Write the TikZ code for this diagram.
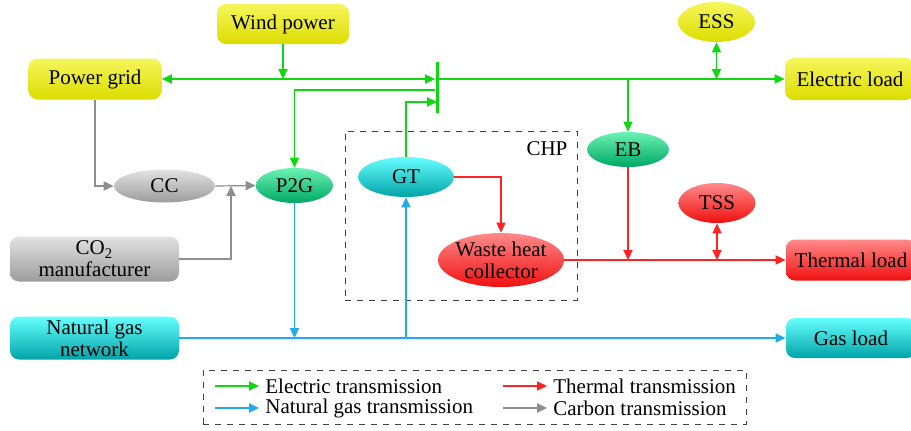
\documentclass[tikz,border=0pt]{standalone}
\usepackage{fontspec}
\setmainfont{LiberationSerif}[Extension=.ttf,UprightFont=*-Regular,BoldFont=*-Bold,ItalicFont=*-Italic]
\usetikzlibrary{arrows.meta,positioning,calc,shapes.geometric}
\usepackage{xcolor}
\definecolor{elec}{HTML}{10D810}
\definecolor{gas}{HTML}{22AAEE}
\definecolor{heat}{HTML}{FF2424}
\definecolor{carb}{HTML}{8E8E8E}
\definecolor{yelT}{HTML}{F6F65C}
\definecolor{yelB}{HTML}{DCDC00}
\definecolor{grayT}{HTML}{E2E2E2}
\definecolor{grayB}{HTML}{9C9C9C}
\definecolor{grnT}{HTML}{6AF2B4}
\definecolor{grnB}{HTML}{00A865}
\definecolor{cyaT}{HTML}{66FFFF}
\definecolor{cyaB}{HTML}{00A3A8}
\definecolor{redT}{HTML}{FF8A8A}
\definecolor{redB}{HTML}{F01010}
\tikzset{
  txt/.style={font=\rmfamily\fontsize{10.5}{11}\selectfont},
  unit/.style={txt,rounded corners=4.5pt,align=center,inner sep=0pt},
  dev/.style={txt,ellipse,align=center,inner sep=0pt},
  yelbox/.style={unit,top color=yelT,bottom color=yelB},
  graybox/.style={unit,top color=grayT,bottom color=grayB},
  cyabox/.style={unit,top color=cyaT,bottom color=cyaB},
  redbox/.style={unit,top color=redT,bottom color=redB},
  yeldev/.style={dev,top color=yelT,bottom color=yelB},
  graydev/.style={dev,top color=grayT,bottom color=grayB},
  grndev/.style={dev,top color=grnT,bottom color=grnB},
  cyadev/.style={dev,top color=cyaT,bottom color=cyaB},
  reddev/.style={dev,top color=redT,bottom color=redB},
  tip/.style={-{Triangle[length=5pt,width=4.6pt]}},
  tips/.style={{Triangle[length=5pt,width=4.6pt]}-{Triangle[length=5pt,width=4.6pt]}},
  elec/.style={tip,draw=elec,line width=0.6pt},
  elecboth/.style={tips,draw=elec,line width=0.6pt},
  gasln/.style={tip,draw=gas,line width=0.6pt},
  heatln/.style={tip,draw=heat,line width=0.6pt},
  heatboth/.style={tips,draw=heat,line width=0.6pt},
  carbln/.style={tip,draw=carb,line width=0.6pt},
  dashbox/.style={draw=black!75,dashed,line width=0.5pt,inner sep=0pt}
}
\begin{document}
\begin{tikzpicture}[x=0.5pt,y=-0.5pt]
  \useasboundingbox (0,0) rectangle (911,430);
  % sources and loads
  \node[yelbox,minimum width=66pt,minimum height=20pt] (wind) at (283,24) {Wind power};
  \node[yelbox,minimum width=66.5pt,minimum height=20.5pt] (grid) at (95,79) {Power grid};
  \node[yelbox,minimum width=65pt,minimum height=21pt] (eload) at (850,79) {Electric load};
  \node[redbox,minimum width=65pt,minimum height=20.5pt] (tload) at (851,260) {Thermal load};
  \node[cyabox,minimum width=65pt,minimum height=20pt] (gload) at (851,338) {Gas load};
  \node[cyabox,minimum width=84.5pt,minimum height=21.5pt] (ngnet) at (94.5,338) {Natural gas\\network};
  \node[graybox,minimum width=84.5pt,minimum height=22.5pt] (co2) at (94.5,259) {CO\textsubscript{2}\\manufacturer};
  % devices
  \node[graydev,minimum width=50.5pt,minimum height=16.5pt] (cc) at (164.5,186) {CC};
  \node[grndev,minimum width=38.5pt,minimum height=17.5pt] (p2g) at (294.5,185.5) {P2G};
  \node[cyadev,minimum width=48pt,minimum height=20pt] (gt) at (406,177) {GT};
  \node[grndev,minimum width=41pt,minimum height=17.5pt] (eb) at (628,149.5) {EB};
  \node[yeldev,minimum width=38.5pt,minimum height=20pt] (ess) at (716.5,22) {ESS};
  \node[reddev,minimum width=38.5pt,minimum height=20pt] (tss) at (717,203) {TSS};
  \node[reddev,minimum width=63pt,minimum height=27pt,inner xsep=-1pt,inner ysep=-1pt] (whc) at (501,260) {Waste heat\\collector};
  % CHP frame and bus bar
  \node[dashbox,minimum width=116pt,minimum height=84.5pt] (chp) at (461,215.5) {};
  \node[txt] (chplab) at (547,149) {CHP};
  \node[fill=elec,inner sep=0pt,minimum width=1.5pt,minimum height=25.5pt] (bus) at (437,87.5) {};
  \coordinate (gtin) at (437,102);
  \coordinate (cjoin) at (231,186);
  % electric
  \draw[elecboth] (grid.east) -- (bus.west |- grid.east);
  \draw[elec] (wind.south) -- (wind.south |- grid.east);
  \draw[elec] (bus.east |- eload.west) -- (eload.west);
  \draw[elec] ([yshift=-1.25pt]bus.west) -| (p2g.north);
  \draw[elec] (gt.north) |- (gtin);
  \draw[elecboth] (ess.south) -- (ess.south |- eload.west);
  \draw[elec] (eb.north |- eload.west) -- (eb.north);
  % thermal
  \draw[heatln] (gt.east) -| (whc.north);
  \draw[heatln] (whc.east) -- (tload.west);
  \draw[heatln] (eb.south) -- (eb.south |- tload.west);
  \draw[heatboth] (tss.south) -- (tss.south |- tload.west);
  % gas
  \draw[gasln] (ngnet.east) -- (gload.west);
  \draw[gasln] (p2g.south) -- (p2g.south |- ngnet.east);
  \draw[gasln] (gt.south |- ngnet.east) -- (gt.south);
  % carbon
  \draw[carbln] (grid.south) |- (cc.west);
  \draw[carbln] (cc.east) -- (p2g.west);
  \draw[carbln] (co2.east) -| (cjoin);
  % legend
  \node[dashbox,minimum width=271.5pt,minimum height=27pt] (legend) at (474.5,397) {};
  \node[txt,anchor=west,inner sep=0pt] (lel) at (265,386) {Electric transmission};
  \node[txt,anchor=west,inner sep=0pt] (lgas) at (265,408) {Natural gas transmission};
  \node[txt,anchor=west,inner sep=0pt] (lheat) at (553,386) {Thermal transmission};
  \node[txt,anchor=west,inner sep=0pt] (lcarb) at (553,408) {Carbon transmission};
  \draw[elec] ([xshift=-25pt]lel.west) -- ([xshift=-3pt]lel.west);
  \draw[gasln] ([xshift=-25pt]lgas.west) -- ([xshift=-3pt]lgas.west);
  \draw[heatln] ([xshift=-25pt]lheat.west) -- ([xshift=-3pt]lheat.west);
  \draw[carbln] ([xshift=-25pt]lcarb.west) -- ([xshift=-3pt]lcarb.west);
\end{tikzpicture}
\end{document}
